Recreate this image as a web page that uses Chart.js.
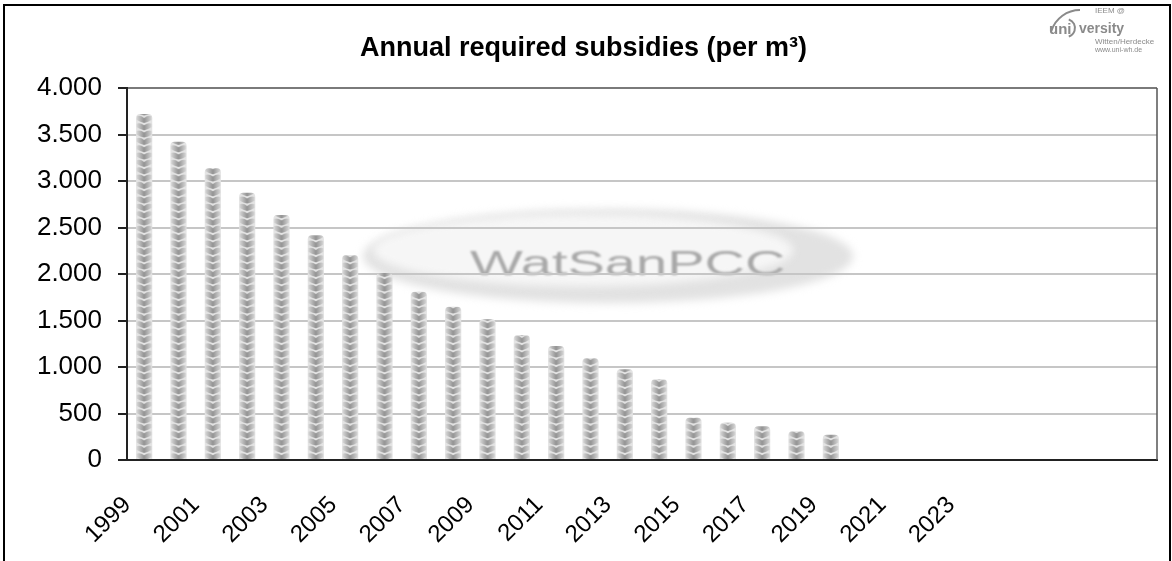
<!DOCTYPE html>
<html>
<head>
<meta charset="utf-8">
<script src="https://cdn.jsdelivr.net/npm/chart.js@4.4.0/dist/chart.umd.min.js"></script>
<style>
  html, body { margin: 0; padding: 0; background: #fff; }
</style>
</head>
<body>
<canvas id="myChart" width="1172" height="561"></canvas>
<script>
// categories (years); the last four slots are empty on the original axis
const years = ['1999', '2000', '2001', '2002', '2003', '2004', '2005', '2006', '2007', '2008',
  '2009', '2010', '2011', '2012', '2013', '2014', '2015', '2016', '2017', '2018',
  '2019', '2020', '2021', '2022', '2023', '2024', '', '', '', ''];
// annual required subsidies per m³
const subsidies = [3720, 3423, 3136, 2875, 2634, 2416, 2204, 2010, 1810, 1649,
  1513, 1345, 1225, 1093, 975, 868, 455, 401, 362, 308, 272];
const chartTitle = 'Annual required subsidies (per m\u00b3)';
const watermarkText = 'WatSanPCC';

const FONT = "'Liberation Sans', Arial, sans-serif";
const BAR_PCT = 0.47;

// small tile of stacked grey "hearts" used to fill the bars
function makeTile() {
  const w = 16, h = 22, step = h / 3;
  const c = document.createElement('canvas');
  c.width = w; c.height = h;
  const g = c.getContext('2d');
  g.fillStyle = '#e4e4e4';
  g.fillRect(0, 0, w, h);
  const grad = g.createLinearGradient(0, 0, w, 0);
  grad.addColorStop(0, '#dcdcdc');
  grad.addColorStop(0.3, '#b0b0b0');
  grad.addColorStop(0.5, '#939393');
  grad.addColorStop(0.7, '#b0b0b0');
  grad.addColorStop(1, '#dcdcdc');
  for (let k = -1; k <= 3; k++) {
    const y0 = k * step;
    g.beginPath();
    g.moveTo(0.5, y0 + 1);
    g.quadraticCurveTo(w * 0.25, y0 - 0.6, w / 2, y0 + 2.6);
    g.quadraticCurveTo(w * 0.75, y0 - 0.6, w - 0.5, y0 + 1);
    g.lineTo(w - 0.5, y0 + 4.4);
    g.quadraticCurveTo(w * 0.75, y0 + 6.6, w / 2, y0 + 7.6);
    g.quadraticCurveTo(w * 0.25, y0 + 6.6, 0.5, y0 + 4.4);
    g.closePath();
    g.fillStyle = grad;
    g.fill();
  }
  return c;
}
const tile = makeTile();

function barFill(ctx) {
  const chart = ctx.chart;
  if (ctx.type !== 'data' || !chart.chartArea) return '#a0a0a0';
  const xs = chart.scales.x;
  const cw = xs.getPixelForValue(1) - xs.getPixelForValue(0);
  const bw = cw * BAR_PCT;
  const left = xs.getPixelForValue(ctx.dataIndex) - bw / 2;
  const base = chart.scales.y.getPixelForValue(0);
  const p = chart.ctx.createPattern(tile, 'repeat');
  p.setTransform(new DOMMatrix([bw / tile.width, 0, 0, 1, left, base]));
  return p;
}

function fmt(v) {
  return String(v).replace(/\B(?=(\d{3})+(?!\d))/g, '.');
}

// white background, outer frame and the faint watermark behind the plot
const backgroundPlugin = {
  id: 'background',
  beforeDraw(chart) {
    const ctx = chart.ctx;
    const a = chart.chartArea;
    ctx.save();
    ctx.fillStyle = '#fff';
    ctx.fillRect(0, 0, chart.width, chart.height);
    ctx.fillStyle = '#000';
    ctx.fillRect(3, 4, 2, chart.height - 4);
    ctx.fillRect(3, 4, chart.width - 5, 2);
    ctx.fillRect(chart.width - 3, 4, 2, chart.height - 4);

    const cx = a.left + (a.right - a.left) * 0.467;
    const cy = a.top + (a.bottom - a.top) * 0.452;
    ctx.filter = 'blur(4px)';
    ctx.fillStyle = '#e2e2e2';
    ctx.beginPath();
    ctx.ellipse(cx, cy, 245, 47, 0, 0, Math.PI * 2);
    ctx.fill();
    ctx.fillStyle = '#f6f6f6';
    ctx.beginPath();
    ctx.ellipse(cx - 25, cy - 6, 210, 36, 0, 0, Math.PI * 2);
    ctx.fill();
    ctx.restore();

    ctx.save();
    ctx.filter = 'blur(0.8px)';
    ctx.fillStyle = '#a8a8a8';
    ctx.font = '35px ' + FONT;
    ctx.textBaseline = 'alphabetic';
    ctx.translate(cx - 138, cy + 19);
    ctx.scale(1.6, 1);
    ctx.fillText(watermarkText, 0, 0);
    ctx.restore();
  },
  afterDraw(chart) {
    const ctx = chart.ctx;
    const a = chart.chartArea;
    // right edge of the plot area
    ctx.save();
    ctx.strokeStyle = '#555';
    ctx.lineWidth = 1.5;
    ctx.beginPath();
    ctx.moveTo(a.right, a.top);
    ctx.lineTo(a.right, a.bottom);
    ctx.stroke();
    ctx.restore();

    // university logo, top right
    ctx.save();
    ctx.filter = 'blur(0.6px)';
    ctx.fillStyle = '#8a8a8a';
    ctx.strokeStyle = '#8a8a8a';
    ctx.textBaseline = 'alphabetic';
    ctx.font = 'bold 15px ' + FONT;
    ctx.fillText('uni', 1049, 34);
    ctx.font = 'bold 14px ' + FONT;
    ctx.fillText('versity', 1079, 33);
    ctx.font = '8px ' + FONT;
    ctx.fillText('IEEM @', 1095, 13);
    ctx.font = '8px ' + FONT;
    ctx.fillText('Witten/Herdecke', 1095, 44);
    ctx.font = '7px ' + FONT;
    ctx.fillText('www.uni-wh.de', 1095, 52);
    ctx.lineWidth = 2;
    ctx.beginPath();
    ctx.arc(1080, 40, 30, Math.PI * 1.1, Math.PI * 1.5);
    ctx.stroke();
    ctx.beginPath();
    ctx.arc(1066, 28, 9, -Math.PI * 0.4, Math.PI * 0.4);
    ctx.stroke();
    ctx.restore();
  }
};

new Chart(document.getElementById('myChart'), {
  type: 'bar',
  data: {
    labels: years,
    datasets: [{
      label: 'Subsidies',
      data: subsidies,
      backgroundColor: barFill,
      borderWidth: 0,
      borderRadius: { topLeft: 4, topRight: 4, bottomLeft: 0, bottomRight: 0 },
      borderSkipped: 'start',
      barPercentage: BAR_PCT,
      categoryPercentage: 1
    }]
  },
  options: {
    responsive: false,
    animation: false,
    layout: { padding: { left: 10, right: 15, top: 0, bottom: 0 } },
    plugins: {
      legend: { display: false },
      tooltip: { enabled: false },
      title: {
        display: true,
        text: chartTitle,
        color: '#000',
        font: { family: FONT, size: 27, weight: 'bold', lineHeight: 1.2 },
        padding: { top: 32, bottom: 23.6 }
      }
    },
    scales: {
      x: {
        grid: { display: false, drawTicks: false },
        border: { display: true, color: '#222', width: 2 },
        ticks: {
          color: '#000',
          font: { family: FONT, size: 24 },
          autoSkip: false,
          minRotation: 45,
          maxRotation: 45,
          padding: 31,
          labelOffset: -17,
          callback: function (val, i) {
            return i % 2 === 0 ? years[i] : '';
          }
        },
        afterFit: function (s) { s.height = 101; s.paddingRight = 0; }
      },
      y: {
        min: 0,
        max: 4000,
        grid: {
          color: function (c) { return c.tick && c.tick.value === 4000 ? '#7a7a7a' : '#c6c6c6'; },
          lineWidth: 2,
          tickLength: 9,
          tickColor: '#222',
          tickWidth: 2
        },
        border: { display: true, color: '#222', width: 2 },
        ticks: {
          stepSize: 500,
          color: '#000',
          padding: 16,
          font: { family: FONT, size: 26 },
          callback: function (v) { return fmt(v); }
        },
        afterFit: function (s) { s.width = 117; }
      }
    }
  },
  plugins: [backgroundPlugin]
});
</script>
</body>
</html>
